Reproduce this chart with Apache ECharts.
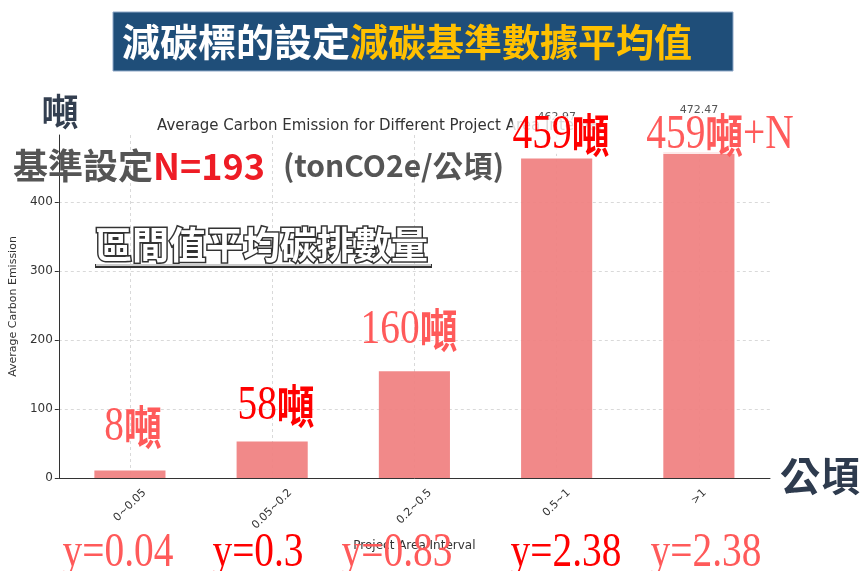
<!DOCTYPE html>
<html>
<head>
<meta charset="utf-8">
<script src="https://cdn.jsdelivr.net/npm/echarts@6/dist/echarts.min.js"></script>
<style>
  html, body { margin: 0; padding: 0; background: #fff; }
  #chart { width: 863px; height: 571px; }
</style>
</head>
<body>
<div id="chart"></div>
<script>
// data
var categories = ['0~0.05', '0.05~0.2', '0.2~0.5', '0.5~1', '>1'];
var avgEmission = [11, 53, 154.5, 462.97, 472.47];
var showValue = [false, false, false, true, true];
var tonNotes = ['8', '58', '160', '459', '459'];
var tonSuffix = ['', '', '', '', '+N'];
var slopes = ['y=0.04', 'y=0.3', 'y=0.83', 'y=2.38', 'y=2.38'];
var yTicks = [0, 100, 200, 300, 400];

var lightRed = '#ff5a5a';
var pureRed = '#ff0000';
var noteColors = [lightRed, pureRed, lightRed, pureRed, lightRed];
var noteX = [133, 276, 409, 561, 720];
var noteY = [427, 406, 330, 135, 135];
var slopeColors = [lightRed, pureRed, lightRed, pureRed, lightRed];
var slopeX = [118, 258, 397, 566, 706];

var myChart = echarts.init(document.getElementById('chart'));

// x labels: rotated 45deg but centred under the tick (matplotlib style)
var labelFont = '11px DejaVu Sans';
var ctx = document.createElement('canvas').getContext('2d');
ctx.font = labelFont;
var xRich = {};
categories.forEach(function (c, i) {
  var L = ctx.measureText(c).width;
  xRich['c' + i] = {
    fontFamily: 'DejaVu Sans', fontSize: 11, color: '#333',
    padding: [L / 2, L / 2, 0, 0]
  };
});

var barData = avgEmission.map(function (v, i) {
  return {
    value: v,
    label: {
      show: showValue[i],
      position: 'top',
      distance: 36,
      formatter: function (p) { return p.value.toFixed(2); },
      color: '#555',
      fontSize: 11,
      fontFamily: 'DejaVu Sans'
    }
  };
});

var graphics = [];
// banner
graphics.push({
  type: 'rect', z: 100,
  shape: { x: 113, y: 12, width: 620, height: 59 },
  style: { fill: '#1f4e79', stroke: '#8fa8c8', lineWidth: 1 }
});
graphics.push({
  type: 'text', z: 101, x: 122, y: 42,
  style: {
    text: '{w|減碳標的設定}{y|減碳基準數據平均值}',
    textVerticalAlign: 'middle',
    rich: {
      w: { font: "bold 38px 'Noto Sans CJK TC'", fill: '#ffffff', color: '#ffffff' },
      y: { font: "bold 38px 'Noto Sans CJK TC'", fill: '#ffc000', color: '#ffc000' }
    }
  }
});
// unit labels
graphics.push({
  type: 'text', z: 101, x: 60, y: 112,
  style: { text: '噸', font: "bold 37px 'Noto Sans CJK TC'", fill: '#333f50', textAlign: 'center', textVerticalAlign: 'middle' }
});
graphics.push({
  type: 'text', z: 101, x: 820, y: 476,
  style: { text: '公頃', font: "bold 40px 'Noto Sans CJK TC'", fill: '#2e3b4e', textAlign: 'center', textVerticalAlign: 'middle' }
});
// baseline note
graphics.push({
  type: 'text', z: 101, x: 13, y: 166,
  style: {
    text: '{a|基準設定}{b|N=193}{c|(tonCO2e/公頃)}',
    textVerticalAlign: 'middle',
    rich: {
      a: { font: "bold 35px 'Noto Sans CJK TC'", fill: '#555555', color: '#555555' },
      b: { font: "bold 36px 'Noto Sans CJK TC'", fill: '#ee1c25', color: '#ee1c25' },
      c: { font: "bold 30px 'Noto Sans CJK TC'", fill: '#555555', color: '#555555', padding: [0, 0, 0, 18] }
    }
  }
});
// outlined heading with underline
graphics.push({
  type: 'line', z: 100,
  shape: { x1: 95, y1: 266, x2: 432, y2: 266 },
  style: { stroke: '#333', lineWidth: 4 }
});
graphics.push({
  type: 'line', z: 101,
  shape: { x1: 96, y1: 265, x2: 431, y2: 265 },
  style: { stroke: '#fff', lineWidth: 1.5 }
});
graphics.push({
  type: 'text', z: 101, x: 95, y: 245,
  style: {
    text: '區間值平均碳排數量',
    font: "bold 37px 'Noto Sans CJK TC'",
    fill: '#ffffff', stroke: '#333333', lineWidth: 3,
    textVerticalAlign: 'middle',
    shadowColor: 'rgba(0,0,0,0.5)', shadowBlur: 3, shadowOffsetX: 2, shadowOffsetY: 2
  }
});
// ton notes above bars, slope notes below the axis
for (var i = 0; i < categories.length; i++) {
  var boxed = i >= 3;
  graphics.push({
    type: 'text', z: 101, x: noteX[i], y: noteY[i], scaleX: 0.82,
    style: {
      text: '{d|' + tonNotes[i] + '}{c|噸}{d|' + tonSuffix[i] + '}',
      textAlign: 'center', textVerticalAlign: 'middle',
      backgroundColor: boxed ? 'rgba(255,255,255,0.82)' : 'transparent',
      rich: {
        d: { font: "48px 'Liberation Serif'", fill: noteColors[i], color: noteColors[i], lineHeight: 38 },
        c: { font: "bold 46px 'Noto Sans CJK TC'", fill: noteColors[i], color: noteColors[i], lineHeight: 38 }
      }
    }
  });
  graphics.push({
    type: 'text', z: 101, x: slopeX[i], y: 553, scaleX: 0.82,
    style: {
      text: slopes[i],
      font: "48px 'Liberation Serif'",
      fill: slopeColors[i],
      textAlign: 'center', textVerticalAlign: 'middle'
    }
  });
}

var option = {
  backgroundColor: '#ffffff',
  animation: false,
  title: {
    text: 'Average Carbon Emission for Different Project Area Interval',
    left: 152, top: 114,
    textStyle: { fontFamily: 'DejaVu Sans', fontSize: 15, fontWeight: 'normal', color: '#333' }
  },
  grid: { left: 58, right: 93, top: 135, bottom: 93 },
  xAxis: {
    type: 'category',
    data: categories,
    name: 'Project Area Interval',
    nameLocation: 'middle',
    nameGap: 62,
    nameTextStyle: { fontFamily: 'DejaVu Sans', fontSize: 12, color: '#333' },
    axisLine: { lineStyle: { color: '#333', width: 1 } },
    axisTick: { alignWithLabel: true, length: 4, lineStyle: { color: '#333' } },
    axisLabel: {
      interval: 0, rotate: 45, align: 'center', verticalAlign: 'middle', margin: 13,
      formatter: function (v, idx) { return '{c' + idx + '|' + v + '}'; },
      rich: xRich
    },
    splitLine: { show: true, alignWithLabel: true, lineStyle: { color: '#d9d9d9', type: [3, 3] } }
  },
  yAxis: {
    type: 'value',
    min: 0, max: 497, interval: 100,
    name: 'Average Carbon Emission',
    nameLocation: 'middle',
    nameGap: 32,
    nameTextStyle: { fontFamily: 'DejaVu Sans', fontSize: 11, color: '#333' },
    axisLine: { show: true, lineStyle: { color: '#333', width: 1 } },
    axisTick: { show: true, length: 4, lineStyle: { color: '#333' } },
    axisLabel: {
      showMaxLabel: false, fontFamily: 'DejaVu Sans', fontSize: 12, color: '#333', margin: 6,
      formatter: function (v) { return yTicks.indexOf(v) >= 0 ? String(v) : ''; }
    },
    splitLine: { show: true, showMaxLine: false, lineStyle: { color: '#d9d9d9', type: [3, 3] } }
  },
  series: [{
    type: 'bar',
    data: barData,
    barWidth: '50%',
    itemStyle: { color: 'rgba(240,128,128,0.93)' }
  }],
  graphic: graphics
};

myChart.setOption(option);
</script>
</body>
</html>
